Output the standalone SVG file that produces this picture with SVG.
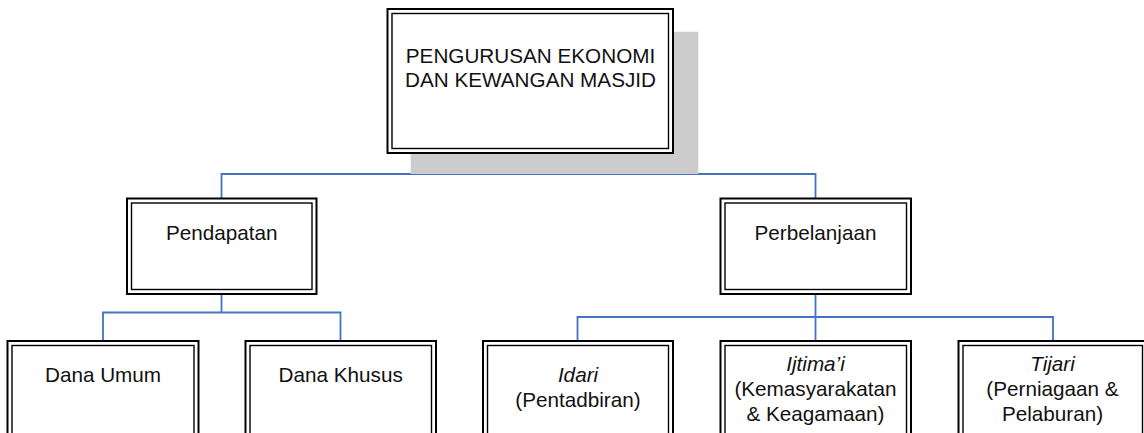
<svg xmlns="http://www.w3.org/2000/svg" width="1144" height="433" viewBox="0 0 1144 433">
<style>
.o{fill:#fff;stroke:#000;stroke-width:2}
.i{fill:none;stroke:#000;stroke-width:1.4}
.t{font-family:"Liberation Sans",Arial,sans-serif;font-size:20.7px;fill:#111;text-anchor:middle}
.it{font-style:italic}
.c{fill:none;stroke:#4472C4;stroke-width:1.8}
</style>
<rect width="1144" height="433" fill="#fff"/>
<g id="connectors">
<path class="c" d="M531,153V174M221.5,198.5V174H815.5V198.5"/>
<path class="c" d="M221.5,294V312.5M103,341V312.5H340.5V341"/>
<path class="c" d="M815.5,294V341M577.5,341V317H1053V341"/>
</g>
<g id="root">
<rect x="410.7" y="31.7" width="287.6" height="142.3" fill="#cccccc"/>
<rect class="o" x="387.5" y="9" width="285.5" height="144"/>
<rect class="i" x="392" y="13.5" width="276.5" height="135"/>
<text class="t" x="530.5" y="63.3">PENGURUSAN EKONOMI</text>
<text class="t" x="530.5" y="87.3">DAN KEWANGAN MASJID</text>
</g>
<g id="pendapatan">
<rect class="o" x="127" y="198.5" width="189.5" height="95.5"/>
<rect class="i" x="131.5" y="203" width="180.5" height="86.5"/>
<text class="t" x="221.7" y="240">Pendapatan</text>
</g>
<g id="perbelanjaan">
<rect class="o" x="720.5" y="198.5" width="190.5" height="95.5"/>
<rect class="i" x="725" y="203" width="181.5" height="86.5"/>
<text class="t" x="815.5" y="240">Perbelanjaan</text>
</g>
<g id="dana-umum">
<rect class="o" x="7.5" y="341" width="191" height="100"/>
<rect class="i" x="12" y="345.5" width="182" height="100"/>
<text class="t" x="103" y="381.7">Dana Umum</text>
</g>
<g id="dana-khusus">
<rect class="o" x="245.5" y="341" width="190.5" height="100"/>
<rect class="i" x="250" y="345.5" width="181.5" height="100"/>
<text class="t" x="340.7" y="381.7">Dana Khusus</text>
</g>
<g id="idari">
<rect class="o" x="483" y="341" width="190" height="100"/>
<rect class="i" x="487.5" y="345.5" width="181" height="100"/>
<text class="t it" x="578" y="381.7">Idari</text>
<text class="t" x="578" y="406.7">(Pentadbiran)</text>
</g>
<g id="ijtimai">
<rect class="o" x="720.5" y="341" width="190.5" height="100"/>
<rect class="i" x="725" y="345.5" width="181.5" height="100"/>
<text class="t it" x="815.5" y="371">Ijtima’i</text>
<text class="t" x="815.5" y="396">(Kemasyarakatan</text>
<text class="t" x="815.5" y="420.7">&amp; Keagamaan)</text>
</g>
<g id="tijari">
<rect class="o" x="958.5" y="341" width="188.5" height="100"/>
<rect class="i" x="963" y="345.5" width="179.5" height="100"/>
<text class="t it" x="1052.5" y="371">Tijari</text>
<text class="t" x="1052.5" y="396">(Perniagaan &amp;</text>
<text class="t" x="1052.5" y="420.7">Pelaburan)</text>
</g>
</svg>
